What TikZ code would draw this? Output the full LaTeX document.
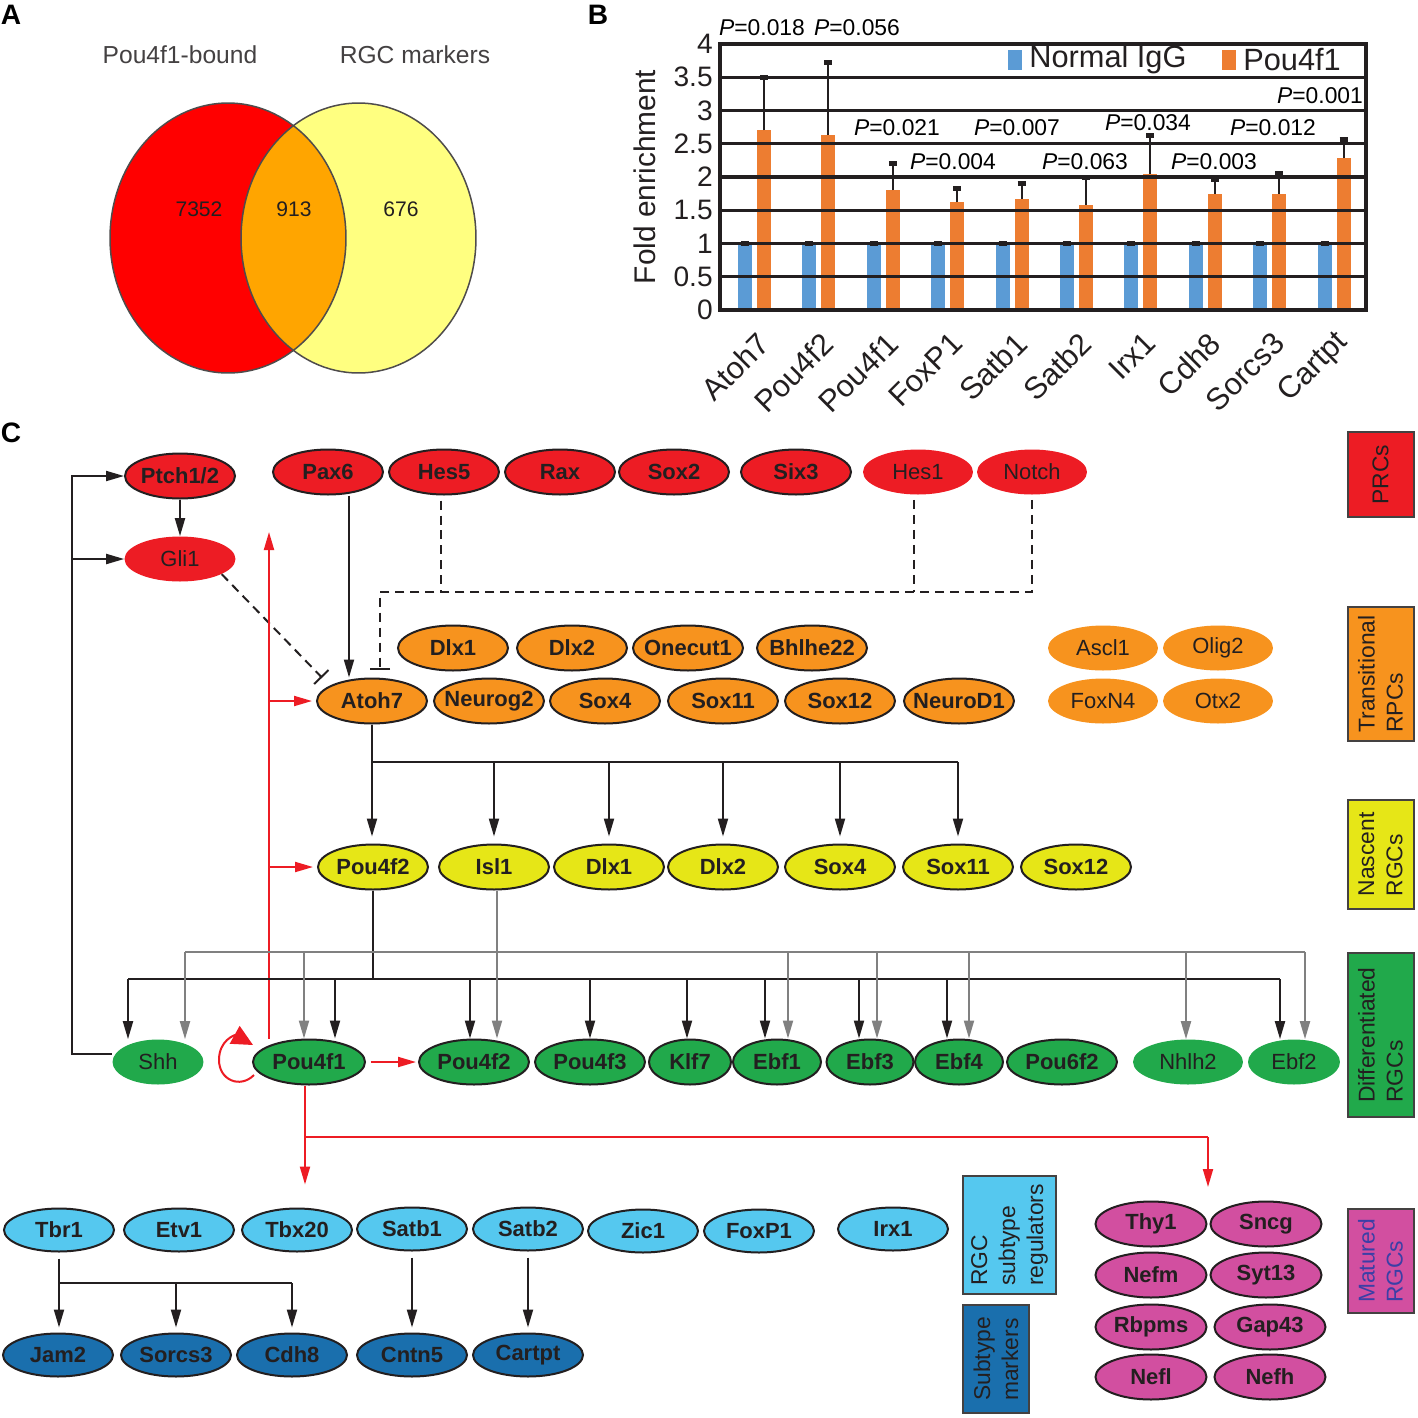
\documentclass[tikz,border=0pt]{standalone}
\usepackage{fontspec}
\setmainfont{Liberation Sans}
\usetikzlibrary{shapes,arrows.meta,positioning,calc}

\definecolor{ink}{HTML}{231F20}
\definecolor{inkgray}{HTML}{808080}
\definecolor{prc}{HTML}{ED1C24}
\definecolor{trans}{HTML}{F7931E}
\definecolor{nasc}{HTML}{E6E617}
\definecolor{diff}{HTML}{21A94B}
\definecolor{subreg}{HTML}{55C8EF}
\definecolor{submark}{HTML}{1A6FAD}
\definecolor{matur}{HTML}{D24FA0}
\definecolor{maturtxt}{HTML}{3B3FA6}
\definecolor{igg}{HTML}{5B9BD5}
\definecolor{chip}{HTML}{ED7D31}
\definecolor{vennred}{HTML}{FF0000}
\definecolor{vennyel}{HTML}{FFFF80}
\definecolor{vennmix}{HTML}{FFA500}

\newcommand{\genefont}{\fontsize{12.5}{14}\selectfont\bfseries}
\newcommand{\softfont}{\fontsize{12.5}{14}\selectfont}
\newcommand{\stagefont}{\fontsize{13}{16}\selectfont}
\newcommand{\panelfont}{\fontsize{16}{16}\selectfont\bfseries}
\newcommand{\tickfont}{\fontsize{16}{16}\selectfont}
\newcommand{\pfont}{\fontsize{13}{13}\selectfont}
\newcommand{\pval}[1]{{\itshape P}=#1}

\begin{document}
\begin{tikzpicture}[x=0.02cm, y=-0.02cm, >={Triangle[length=0.36cm,width=0.2cm]}]
        % Styles
        \tikzstyle{gene} = [ellipse, draw=ink, line width=0.04cm, inner xsep=-0.14cm, inner ysep=0pt, minimum width=2.2cm, minimum height=0.9cm, text=ink, font=\genefont]
        \tikzstyle{soft} = [ellipse, inner xsep=-0.14cm, inner ysep=0pt, minimum width=2.2cm, minimum height=0.9cm, text=ink, font=\softfont]
        \tikzstyle{stage} = [rectangle, draw=ink!85, line width=0.04cm, rotate=90, align=left, inner sep=0pt, text=ink, font=\stagefont]
        \tikzstyle{wire} = [draw=ink, line width=0.04cm]
        \tikzstyle{greywire} = [draw=inkgray, line width=0.04cm]
        \tikzstyle{redwire} = [draw=prc, line width=0.04cm]
        \tikzstyle{dashwire} = [draw=ink, line width=0.04cm, dash pattern=on 0.18cm off 0.12cm]
        \tikzstyle{inhibit} = [-{Bar[width=0.4cm,line width=0.04cm]}]
        \tikzstyle{grid} = [draw=ink, line width=0.065cm]

        \fill[white] (0,0) rectangle (1418,1418);
        \useasboundingbox (0,0) rectangle (1418,1418);

        % A: Venn
        \node[font=\panelfont] (labA) at (11,15) {A};
        \node[font=\fontsize{14}{16}\selectfont, text=ink!85] (setPou) at (180,55) {Pou4f1-bound};
        \node[font=\fontsize{14}{16}\selectfont, text=ink!85] (setRgc) at (415,55) {RGC markers};
        \fill[vennred] (228,238) ellipse [x radius=2.36cm, y radius=2.7cm];
        \fill[vennyel] (358.5,238) ellipse [x radius=2.35cm, y radius=2.7cm];
        \begin{scope}
          \clip (228,238) ellipse [x radius=2.36cm, y radius=2.7cm];
          \fill[vennmix] (358.5,238) ellipse [x radius=2.35cm, y radius=2.7cm];
        \end{scope}
        \draw[ink!80, line width=0.03cm] (228,238) ellipse [x radius=2.36cm, y radius=2.7cm];
        \draw[ink!80, line width=0.03cm] (358.5,238) ellipse [x radius=2.35cm, y radius=2.7cm];
        \node[font=\fontsize{12}{12}\selectfont, text=ink] (onlyPou) at (199,209) {7352};
        \node[font=\fontsize{12}{12}\selectfont, text=ink] (both) at (294,209) {913};
        \node[font=\fontsize{12}{12}\selectfont, text=ink] (onlyRgc) at (401,209) {676};

        % B: ChIP-qPCR
        \node[font=\panelfont] (labB) at (598,15) {B};
        \foreach \i/\gname/\val/\err in {0/Atoh7/2.7/3.5, 1/Pou4f2/2.63/3.72, 2/Pou4f1/1.8/2.2, 3/FoxP1/1.62/1.82, 4/Satb1/1.67/1.9, 5/Satb2/1.58/2.0, 6/Irx1/2.05/2.62, 7/Cdh8/1.75/1.97, 8/Sorcs3/1.75/2.05, 9/Cartpt/2.28/2.57} {
          \pgfmathsetmacro{\bx}{745+64.4*\i}
          \pgfmathsetmacro{\ox}{764+64.4*\i}
          \pgfmathsetmacro{\oy}{310-66.5*\val}
          \pgfmathsetmacro{\ey}{310-66.5*\err}
          \fill[igg] (\bx-7,310) rectangle (\bx+7,243.5);
          \fill[chip] (\ox-7,310) rectangle (\ox+7,\oy);
          \draw[ink, line width=0.04cm] (\ox,\oy) -- (\ox,\ey);
          \draw[ink, line width=0.1cm] (\ox-4,\ey) -- (\ox+4,\ey);
          \draw[ink, line width=0.1cm] (\bx-4,243.5) -- (\bx+4,243.5);
          \node[rotate=45, anchor=east, inner sep=0pt, font=\fontsize{17.5}{17.5}\selectfont, text=ink] (xl\i) at (\bx+19,338) {\gname};
        }
        \foreach \v/\gy/\k in {0/310/0, 0.5/276.75/1, 1/243.5/2, 1.5/210.25/3, 2/177/4, 2.5/143.75/5, 3/110.5/6, 3.5/77.25/7, 4/44/8} {
          \draw[grid] (720,\gy) -- (1366,\gy);
          \node[anchor=east, font=\tickfont, text=ink, inner sep=0pt] (tick\k) at (713,\gy) {\v};
        }
        \draw[grid] (720,44) rectangle (1366,310);
        \node[rotate=90, font=\fontsize{17}{17}\selectfont, text=ink] (ytitle) at (645,177) {Fold enrichment};
        \node[fill=igg, minimum width=0.28cm, minimum height=0.4cm, inner sep=0pt] (legIgg) at (1015,60) {};
        \node[anchor=west, font=\fontsize{17.5}{17.5}\selectfont, text=ink, inner sep=0pt] (legIggTxt) at (1029,60) {Normal IgG};
        \node[fill=chip, minimum width=0.28cm, minimum height=0.4cm, inner sep=0pt] (legChip) at (1229,60) {};
        \node[anchor=west, font=\fontsize{17.5}{17.5}\selectfont, text=ink, inner sep=0pt] (legChipTxt) at (1243,60) {Pou4f1};
        \node[font=\pfont] (p1) at (762,28) {\pval{0.018}};
        \node[font=\pfont] (p2) at (857,28) {\pval{0.056}};
        \node[font=\pfont] (p3) at (897,128) {\pval{0.021}};
        \node[font=\pfont] (p4) at (953,162) {\pval{0.004}};
        \node[font=\pfont] (p5) at (1017,128) {\pval{0.007}};
        \node[font=\pfont] (p6) at (1085,162) {\pval{0.063}};
        \node[font=\pfont] (p7) at (1148,123) {\pval{0.034}};
        \node[font=\pfont] (p8) at (1214,162) {\pval{0.003}};
        \node[font=\pfont] (p9) at (1273,128) {\pval{0.012}};
        \node[font=\pfont] (p10) at (1320,96) {\pval{0.001}};

        % C: network
        \node[font=\panelfont] (labC) at (11,433) {C};

        % Nodes: progenitors
        \node [gene, fill=prc] (ptch) at (180,476) {Ptch1/2};
        \node [soft, fill=prc, minimum width=2.22cm] (gli) at (180,559) {Gli1};
        \node [gene, fill=prc] (pax6) at (328,472) {Pax6};
        \node [gene, fill=prc] (hes5) at (444,472) {Hes5};
        \node [gene, fill=prc] (rax) at (560,472) {Rax};
        \node [gene, fill=prc] (sox2) at (674,472) {Sox2};
        \node [gene, fill=prc] (six3) at (796,472) {Six3};
        \node [soft, fill=prc] (hes1) at (918,472) {Hes1};
        \node [soft, fill=prc] (notch) at (1032,472) {Notch};

        \node [gene, fill=trans] (tDlx1) at (453,648) {Dlx1};
        \node [gene, fill=trans] (tDlx2) at (572,648) {Dlx2};
        \node [gene, fill=trans] (tOnecut1) at (688,648) {Onecut1};
        \node [gene, fill=trans] (tBhlhe22) at (812,648) {Bhlhe22};
        \node [gene, fill=trans] (atoh7) at (372,701) {Atoh7};
        \node [gene, fill=trans] (tNeurog2) at (489,701) {Neurog2};
        \node [gene, fill=trans] (tSox4) at (605,701) {Sox4};
        \node [gene, fill=trans] (tSox11) at (723,701) {Sox11};
        \node [gene, fill=trans] (tSox12) at (840,701) {Sox12};
        \node [gene, fill=trans] (tNeuroD1) at (959,701) {NeuroD1};
        \node [soft, fill=trans] (tAscl1) at (1103,648) {Ascl1};
        \node [soft, fill=trans] (tOlig2) at (1218,648) {Olig2};
        \node [soft, fill=trans] (tFoxN4) at (1103,701) {FoxN4};
        \node [soft, fill=trans] (tOtx2) at (1218,701) {Otx2};

        % Nodes: RGCs
        \node [gene, fill=nasc] (nPou4f2) at (373,867) {Pou4f2};
        \node [gene, fill=nasc] (nIsl1) at (494,867) {Isl1};
        \node [gene, fill=nasc] (nDlx1) at (609,867) {Dlx1};
        \node [gene, fill=nasc] (nDlx2) at (723,867) {Dlx2};
        \node [gene, fill=nasc] (nSox4) at (840,867) {Sox4};
        \node [gene, fill=nasc] (nSox11) at (958,867) {Sox11};
        \node [gene, fill=nasc] (nSox12) at (1076,867) {Sox12};

        \node [soft, fill=diff, minimum width=1.82cm] (dShh) at (158,1062) {Shh};
        \node [gene, fill=diff, minimum width=2.24cm] (dPou4f1) at (309,1062) {Pou4f1};
        \node [gene, fill=diff] (dPou4f2) at (474,1062) {Pou4f2};
        \node [gene, fill=diff] (dPou4f3) at (590,1062) {Pou4f3};
        \node [gene, fill=diff, minimum width=1.64cm] (dKlf7) at (690,1062) {Klf7};
        \node [gene, fill=diff, minimum width=1.76cm] (dEbf1) at (777,1062) {Ebf1};
        \node [gene, fill=diff, minimum width=1.74cm] (dEbf3) at (870,1062) {Ebf3};
        \node [gene, fill=diff, minimum width=1.76cm] (dEbf4) at (959,1062) {Ebf4};
        \node [gene, fill=diff] (dPou6f2) at (1062,1062) {Pou6f2};
        \node [soft, fill=diff] (dNhlh2) at (1188,1062) {Nhlh2};
        \node [soft, fill=diff, minimum width=1.84cm] (dEbf2) at (1294,1062) {Ebf2};

        \node [gene, fill=subreg, minimum height=0.86cm] (rTbr1) at (59,1230) {Tbr1};
        \node [gene, fill=subreg, minimum height=0.86cm] (rEtv1) at (179,1230) {Etv1};
        \node [gene, fill=subreg, minimum height=0.86cm] (rTbx20) at (297,1230) {Tbx20};
        \node [gene, fill=subreg, minimum height=0.86cm] (rSatb1) at (412,1229) {Satb1};
        \node [gene, fill=subreg, minimum height=0.86cm] (rSatb2) at (528,1229) {Satb2};
        \node [gene, fill=subreg, minimum height=0.86cm] (rZic1) at (643,1231) {Zic1};
        \node [gene, fill=subreg, minimum height=0.86cm] (rFoxP1) at (759,1231) {FoxP1};
        \node [gene, fill=subreg, minimum height=0.86cm] (rIrx1) at (893,1229) {Irx1};

        \node [gene, fill=submark, minimum height=0.86cm] (mJam2) at (58,1355) {Jam2};
        \node [gene, fill=submark, minimum height=0.86cm] (mSorcs3) at (176,1355) {Sorcs3};
        \node [gene, fill=submark, minimum height=0.86cm] (mCdh8) at (292,1355) {Cdh8};
        \node [gene, fill=submark, minimum height=0.86cm] (mCntn5) at (412,1355) {Cntn5};
        \node [gene, fill=submark, minimum height=0.86cm] (mCartpt) at (528,1355) {Cartpt};

        \node [gene, fill=matur, minimum width=2.22cm] (gThy1) at (1151,1224) {Thy1};
        \node [gene, fill=matur, minimum width=2.22cm] (gSncg) at (1266,1224) {Sncg};
        \node [gene, fill=matur, minimum width=2.22cm] (gNefm) at (1151,1275) {Nefm};
        \node [gene, fill=matur, minimum width=2.22cm] (gSyt13) at (1266,1275) {Syt13};
        \node [gene, fill=matur, minimum width=2.22cm] (gRbpms) at (1151,1327) {Rbpms};
        \node [gene, fill=matur, minimum width=2.22cm] (gGap43) at (1270,1327) {Gap43};
        \node [gene, fill=matur, minimum width=2.22cm] (gNefl) at (1151,1377) {Nefl};
        \node [gene, fill=matur, minimum width=2.22cm] (gNefh) at (1270,1377) {Nefh};

        % Stage boxes
        \node [stage, fill=prc, minimum width=1.7cm, minimum height=1.32cm] (sPRC) at (1380.5,474.5) {PRCs};
        \node [stage, fill=trans, minimum width=2.68cm, minimum height=1.32cm] (sTrans) at (1380.5,674) {Transitional\\RPCs};
        \node [stage, fill=nasc, minimum width=2.18cm, minimum height=1.32cm] (sNasc) at (1380.5,854.5) {Nascent\\RGCs};
        \node [stage, fill=diff, minimum width=3.28cm, minimum height=1.32cm] (sDiff) at (1380.5,1035) {Differentiated\\RGCs};
        \node [stage, fill=matur, text=maturtxt, minimum width=2.08cm, minimum height=1.32cm] (sMatur) at (1380.5,1261) {Matured\\RGCs};
        \node [stage, fill=subreg, minimum width=2.36cm, minimum height=1.86cm] (sSubreg) at (1009.5,1235) {RGC\\subtype\\regulators};
        \node [stage, fill=submark, minimum width=2.16cm, minimum height=1.32cm] (sSubmark) at (996,1359) {Subtype\\markers};

        % Edges: progenitor signals
        \coordinate (leftRail) at (72,1054);
        \draw [wire, ->] (dShh.west |- leftRail) -- (leftRail) |- (ptch.west);
        \draw [wire, ->] (gli.west -| leftRail) -- (gli.west);
        \draw [wire, ->] (ptch) -- (gli);
        \draw [dashwire, inhibit, shorten >=0.22cm] (gli.-20) -- (atoh7.160);
        \draw [wire, ->] (pax6.south -| 349,0) -- (349,0 |- atoh7.north);
        \coordinate (notchBus) at (380,592);
        \draw [dashwire, shorten <=0.1cm] (441,0 |- hes5.south) -- (441,0 |- notchBus);
        \draw [dashwire, shorten <=0.1cm] (914,0 |- hes1.south) -- (914,0 |- notchBus);
        \draw [dashwire, inhibit, shorten <=0.1cm, shorten >=0.16cm] (notch.south) |- (notchBus) -- (notchBus |- atoh7.north);

        % Edges: Pou4f1 feedback (red)
        \coordinate (redTop) at (269,532);
        \draw [redwire, ->] (redTop |- dPou4f1.north) -- (redTop);
        \draw [redwire, ->, shorten >=0.08cm] (atoh7.west -| redTop) -- (atoh7.west);
        \draw [redwire, ->, shorten >=0.08cm] (nPou4f2.west -| redTop) -- (nPou4f2.west);
        \draw [redwire, -{Triangle[length=0.42cm,width=0.4cm]}] ($(dPou4f1.west)+(2,13)$) .. controls +(-14,14) and +(0,20) .. ++(-35,-15) .. controls +(0,-20) and +(-18,-10) .. ($(dPou4f1.west)+(1,-17)$);
        \draw [redwire, ->, shorten <=0.1cm, shorten >=0.04cm] (dPou4f1) -- (dPou4f2);

        % Edges: Atoh7 -> nascent RGCs
        \coordinate (nascBus) at (0,762);
        \draw [wire, ->, shorten >=0.14cm] (atoh7.south) -- (atoh7.south |- nPou4f2.north);
        \draw [wire] (atoh7.south |- nascBus) -- (nSox11.north |- nascBus);
        \foreach \tgt in {nIsl1, nDlx1, nDlx2, nSox4, nSox11}
          \draw [wire, ->, shorten >=0.14cm] (\tgt.north |- nascBus) -- (\tgt.north);

        % Edges: nascent -> differentiated
        \coordinate (diffBus) at (0,979);
        \coordinate (greyBus) at (0,952);
        \draw [wire] (nPou4f2.south) -- (nPou4f2.south |- diffBus);
        \draw [wire] (128,0 |- diffBus) -- (1280,0 |- diffBus);
        \foreach \ax/\tgt in {128/dShh, 335/dPou4f1, 470/dPou4f2, 590/dPou4f3, 687/dKlf7, 765/dEbf1, 859/dEbf3, 947/dEbf4, 1280/dEbf2}
          \draw [wire, ->] (\ax,0 |- diffBus) -- (\ax,0 |- \tgt.north);
        \draw [greywire] (497,0 |- nIsl1.south) -- (497,0 |- greyBus);
        \draw [greywire] (185,0 |- greyBus) -- (1305,0 |- greyBus);
        \foreach \ax/\tgt in {185/dShh, 304/dPou4f1, 497/dPou4f2, 788/dEbf1, 877/dEbf3, 969/dEbf4, 1186/dNhlh2, 1305/dEbf2}
          \draw [greywire, ->] (\ax,0 |- greyBus) -- (\ax,0 |- \tgt.north);

        % Edges: Pou4f1 -> subtypes and maturation
        \coordinate (redBus) at (0,1137);
        \coordinate (maturTop) at (1208,1187);
        \draw [redwire] (305,0 |- dPou4f1.south) -- (305,0 |- redBus) -- (maturTop |- redBus);
        \draw [redwire, ->, shorten >=0.46cm] (305,0 |- redBus) -- (305,0 |- rTbx20.north);
        \draw [redwire, ->] (maturTop |- redBus) -- (maturTop);

        % Edges: regulators -> markers
        \coordinate (tbrBus) at (0,1283);
        \draw [wire, ->, shorten <=0.12cm, shorten >=0.1cm] (rTbr1.south) -- (rTbr1.south |- mJam2.north);
        \draw [wire] (rTbr1.south |- tbrBus) -- (mCdh8.north |- tbrBus);
        \draw [wire, ->, shorten >=0.1cm] (mSorcs3.north |- tbrBus) -- (mSorcs3.north);
        \draw [wire, ->, shorten >=0.1cm] (mCdh8.north |- tbrBus) -- (mCdh8.north);
        \draw [wire, ->, shorten <=0.12cm, shorten >=0.1cm] (rSatb1.south) -- (rSatb1.south |- mCntn5.north);
        \draw [wire, ->, shorten <=0.12cm, shorten >=0.1cm] (rSatb2.south) -- (rSatb2.south |- mCartpt.north);
    \end{tikzpicture}
\end{document}
